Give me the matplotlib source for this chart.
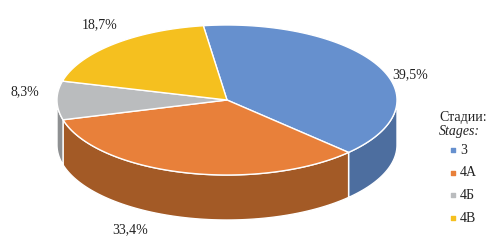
import numpy as np
import matplotlib
matplotlib.use('Agg')
import matplotlib.pyplot as plt
from matplotlib.patches import Polygon

# Data
stages = ['3', '4А', '4Б', '4В']
shares = [39.5, 33.4, 8.3, 18.7]
labels = ['39,5%', '33,4%', '8,3%', '18,7%']
top_colors = ['#6690CE', '#E8803A', '#BABCBE', '#F5C01F']
side_colors = ['#4D6E9F', '#A35A26', '#8E9092', '#B8900F']

# Geometry of the pseudo-3D pie (pixel space)
cx, cy = 227, 100
rx, ry = 170, 75
depth = 45
start = 98.0
label_pos = [(410, 75), (130, 230), (25, 92), (100, 25)]

plt.rcParams['font.family'] = ['Liberation Serif', 'DejaVu Serif']

fig = plt.figure(figsize=(5, 2.47), dpi=100)
ax = fig.add_axes([0, 0, 1, 1])
ax.set_xlim(0, 500)
ax.set_ylim(247, 0)
ax.axis('off')


def edge(t0, t1, dy=0, n=80):
    t = np.radians(np.linspace(t0, t1, n))
    return np.column_stack([cx + rx * np.cos(t), cy - ry * np.sin(t) + dy])


# Slice angle ranges (clockwise from start)
fracs = np.array(shares) / sum(shares) * 360
bounds = start - np.concatenate([[0], np.cumsum(fracs)])

# Side walls (front half only: t in [-180, 0] modulo 360)
for i in range(len(shares)):
    t_hi, t_lo = bounds[i], bounds[i + 1]
    for shift in (-360, 0, 360):
        a = max(t_lo + shift, -180)
        b = min(t_hi + shift, 0)
        if b > a:
            top = edge(b, a)
            bot = edge(a, b, dy=depth)
            ax.add_patch(Polygon(np.vstack([top, bot]), closed=True,
                                 facecolor=side_colors[i], edgecolor='white',
                                 linewidth=1.0, zorder=1))

# Top faces
for i in range(len(shares)):
    arc = edge(bounds[i], bounds[i + 1])
    pts = np.vstack([[cx, cy], arc])
    ax.add_patch(Polygon(pts, closed=True, facecolor=top_colors[i],
                         edgecolor='white', linewidth=1.0, zorder=2))

# Value labels
for (x, y), txt in zip(label_pos, labels):
    ax.text(x, y, txt, fontsize=10, ha='center', va='center', color='#222222')

# Legend
ax.text(439, 117, 'Стадии:', fontsize=10, ha='left', va='center', color='#222222')
ax.text(439, 131, 'Stages:', fontsize=10, ha='left', va='center',
        style='italic', color='#222222')
for k, (name, col) in enumerate(zip(stages, top_colors)):
    y = 150 + k * 22.7
    ax.scatter([453], [y], marker='s', s=9, color=col, zorder=3)
    ax.text(460, y, name, fontsize=10, ha='left', va='center', color='#222222')

plt.savefig('out.png', dpi=100)
